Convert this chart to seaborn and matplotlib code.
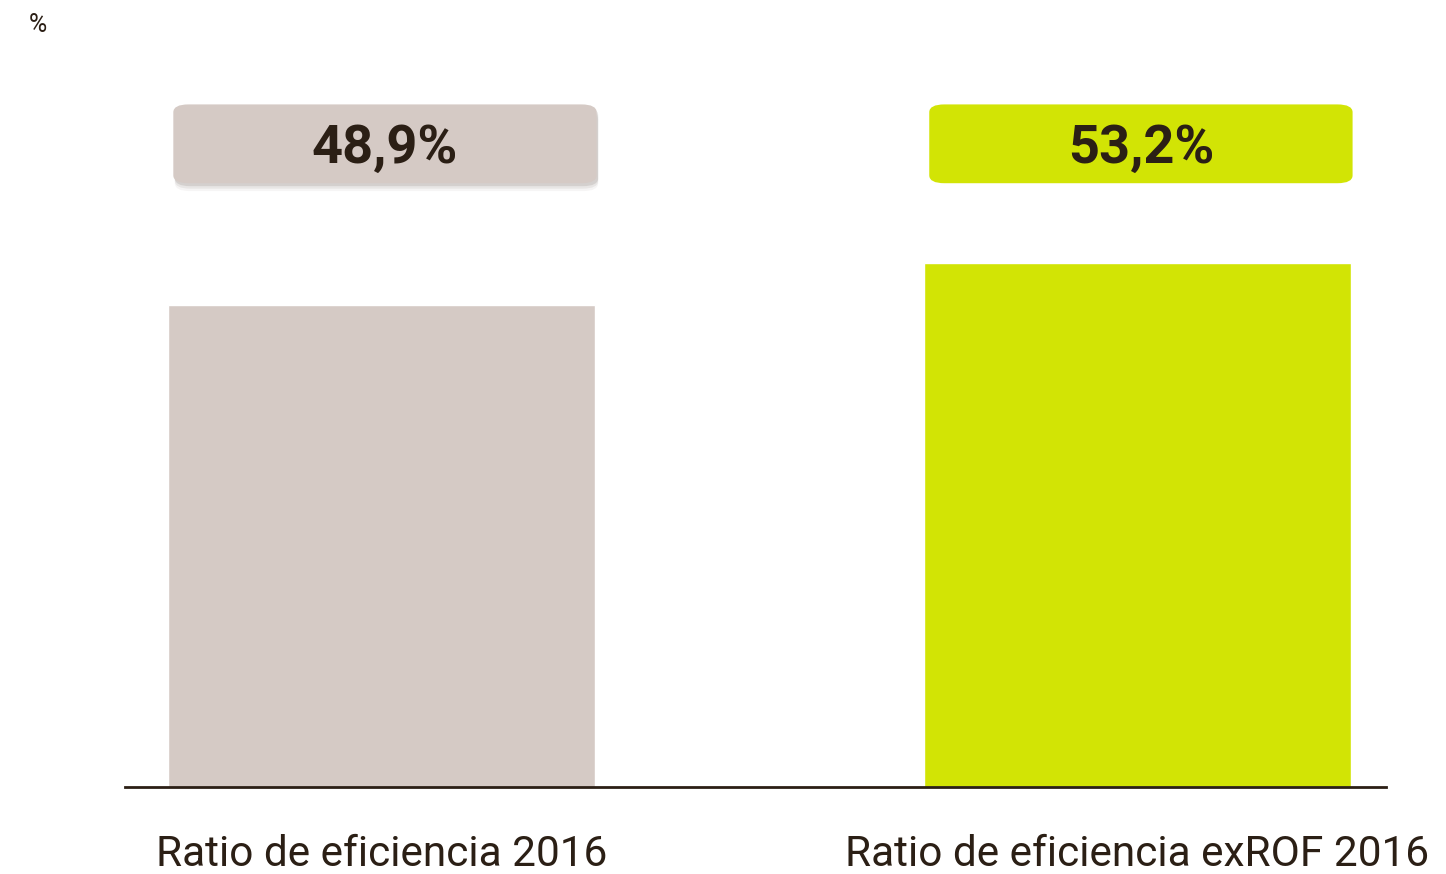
import matplotlib
matplotlib.use("Agg")
import matplotlib.pyplot as plt
import seaborn as sns
from matplotlib.patches import FancyBboxPatch

# --- datos ---
categorias = ["Ratio de eficiencia 2016", "Ratio de eficiencia exROF 2016"]
valores = [48.9, 53.2]
etiquetas = ["48,9%", "53,2%"]
colores = ["#d5cac5", "#d2e405"]
texto_oscuro = "#2b1f15"

sns.set_style("white")
plt.rcParams["font.family"] = ["Roboto", "DejaVu Sans"]

fig = plt.figure(figsize=(14.46, 8.74), dpi=100)
ax = fig.add_axes([0.0864, 0.0995, 0.872, 0.9005])

sns.barplot(x=categorias, y=valores, hue=categorias, palette=colores,
            width=0.565, saturation=1, legend=False, ax=ax)

ax.set_xlim(-0.339, 1.329)
ax.set_ylim(0, 79.9)

# cajas con el valor encima de cada barra
ancho = 0.56
alto = 8.0
centro_y = 65.3
for i, (etq, col) in enumerate(zip(etiquetas, colores)):
    x0 = i - ancho / 2 + 0.005
    if i == 0:
        # sombra suave
        for k, a in enumerate([0.06, 0.10, 0.16]):
            off = 0.8 - k * 0.25
            sombra = FancyBboxPatch((x0 + 0.002, centro_y - alto / 2 - off), ancho, alto,
                                    boxstyle="round,pad=0,rounding_size=0.02",
                                    mutation_aspect=40, fc="#6e625a", ec="none",
                                    alpha=a, zorder=3)
            ax.add_patch(sombra)
    caja = FancyBboxPatch((x0, centro_y - alto / 2), ancho, alto,
                          boxstyle="round,pad=0,rounding_size=0.02",
                          mutation_aspect=40, fc=col, ec="none", zorder=4)
    ax.add_patch(caja)
    ax.text(i + 0.005, centro_y - 0.5, etq, ha="center", va="center", fontsize=39,
            fontweight="bold", color=texto_oscuro, zorder=5)

# ejes
sns.despine(ax=ax, left=True, top=True, right=True)
ax.spines["bottom"].set_color(texto_oscuro)
ax.spines["bottom"].set_linewidth(2)
ax.set_yticks([])
ax.set_xlabel("")
ax.set_ylabel("")
ax.tick_params(axis="x", length=0, pad=34, labelsize=30.5, labelcolor=texto_oscuro)

fig.text(38 / 1446, 1 - 25 / 874, "%", ha="center", va="center", fontsize=18,
         color=texto_oscuro)

fig.savefig("out.png", dpi=100)
